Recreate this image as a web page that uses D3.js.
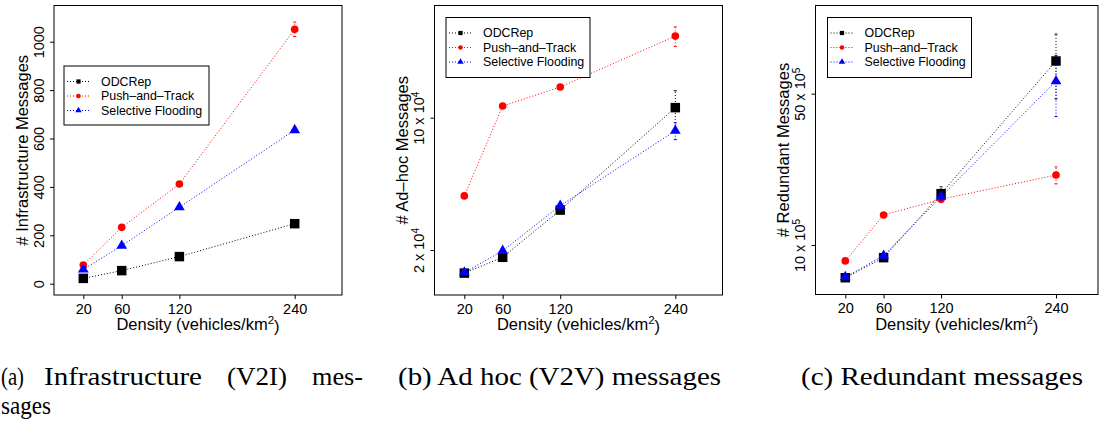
<!DOCTYPE html>
<html>
<head>
<meta charset="utf-8">
<script src="https://cdn.jsdelivr.net/npm/d3@7"></script>
<style>
  html, body { margin: 0; padding: 0; background: #fff; }
  svg { display: block; }
</style>
</head>
<body>
<svg id="chart" width="1099" height="423"></svg>
<script>
// ---------------- DATA ----------------
const densities = [20, 60, 120, 240];
const seriesNames = ["ODCRep", "Push\u2013and\u2013Track", "Selective Flooding"];

// (a) Infrastructure (V2I) messages
const infraODCRep    = [22, 54, 112, 248];
const infraPush      = [77, 233, 412, 1051];
const infraSelective = [59, 157, 316, 635];
const infraErrODCRep    = [2, 3, 5, 8];
const infraErrPush      = [4, 6, 8, 30];
const infraErrSelective = [3, 4, 6, 10];

// (b) Ad hoc (V2V) messages
const adhocODCRep    = [15100, 18300, 32500, 113000];
const adhocPush      = [38600, 115300, 145200, 270000];
const adhocSelective = [15200, 19800, 34300, 85300];
const adhocErrODCRep    = [300, 400, 1000, 25800];
const adhocErrPush      = [800, 2000, 3000, 32000];
const adhocErrSelective = [300, 400, 1000, 8700];

// (c) Redundant messages
const redODCRep    = [706000, 874000, 1726000, 7080000];
const redPush      = [844000, 1376000, 1626000, 2105000];
const redSelective = [711000, 893000, 1672000, 5718000];
const redErrODCRep    = [10000, 20000, 130000, 2350000];
const redErrPush      = [15000, 30000, 40000, 190000];
const redErrSelective = [10000, 20000, 60000, 1800000];

// Tick values / labels
const infraTicks = [0, 200, 400, 600, 800, 1000];
const adhocTicks = [20000, 100000];
const adhocTickLabels = [["2 x 10", "4"], ["10 x 10", "4"]];
const redTicks = [1000000, 5000000];
const redTickLabels = [["10 x 10", "5"], ["50 x 10", "5"]];

const yLabels = ["# Infrastructure Messages", "# Ad\u2013hoc Messages", "# Redundant Messages"];

// ---------------- STYLE / LAYOUT ----------------
const colors = ["#000000", "#ff0000", "#0000ff"];
const shapes = [d3.symbolSquare, d3.symbolCircle, d3.symbolTriangle];
const markerSize = [90, 46, 50];     // area in px^2 for plot markers
const legendMarkerSize = [18, 17, 18];
const sans = "'Liberation Sans', Arial, Helvetica, sans-serif";
const serif = "'Liberation Serif', 'Times New Roman', serif";

const panels = [
  { box: [54, 342, 5.5, 295], x20: 83.3, x240: 294.7, log: false,
    yDom: [0, 1000], yRng: [283.7, 41.7],
    ticks: infraTicks, tickLabels: null,
    series: [infraODCRep, infraPush, infraSelective],
    errs: [infraErrODCRep, infraErrPush, infraErrSelective],
    legend: [64, 66, 145, 59] },
  { box: [434.5, 722.5, 5.5, 295], x20: 464.3, x240: 675.3, log: true,
    yDom: [20000, 100000], yRng: [250, 117.7],
    ticks: adhocTicks, tickLabels: adhocTickLabels,
    series: [adhocODCRep, adhocPush, adhocSelective],
    errs: [adhocErrODCRep, adhocErrPush, adhocErrSelective],
    legend: [446, 17.5, 144, 60] },
  { box: [815.5, 1098, 5.5, 294.5], x20: 845.3, x240: 1056, log: true,
    yDom: [1000000, 5000000], yRng: [245, 93.7],
    ticks: redTicks, tickLabels: redTickLabels,
    series: [redODCRep, redPush, redSelective],
    errs: [redErrODCRep, redErrPush, redErrSelective],
    legend: [827.5, 17.5, 144, 60] }
];

const svg = d3.select("#chart");

panels.forEach((p, pi) => {
  const [bx0, bx1, by0, by1] = p.box;
  const g = svg.append("g");

  const x = d3.scaleLinear().domain([densities[0], densities[3]]).range([p.x20, p.x240]);
  const y = (p.log ? d3.scaleLog() : d3.scaleLinear()).domain(p.yDom).range(p.yRng);

  // plot box
  g.append("rect")
    .attr("x", bx0).attr("y", by0)
    .attr("width", bx1 - bx0).attr("height", by1 - by0)
    .attr("fill", "none").attr("stroke", "#000").attr("stroke-width", 1);

  // X axis
  const xAxis = g.append("g")
    .attr("transform", `translate(0,${by1})`)
    .call(d3.axisBottom(x).tickValues(densities).tickSize(4).tickPadding(4).tickFormat(d3.format("d")));
  xAxis.select(".domain").remove();
  xAxis.selectAll("text").attr("font-family", sans).attr("font-size", 14.5).attr("fill", "#000")
    .attr("dy", 0).attr("y", 18.5);
  xAxis.selectAll("line").attr("stroke", "#000");

  // Y axis
  const yAxis = g.append("g")
    .attr("transform", `translate(${bx0},0)`)
    .call(d3.axisLeft(y).tickValues(p.ticks).tickSize(4).tickFormat(d => d));
  yAxis.select(".domain").remove();
  yAxis.selectAll("line").attr("stroke", "#000");
  yAxis.selectAll("text").each(function(d, i) {
    const t = d3.select(this);
    t.attr("x", 0).attr("y", -10.5).attr("dy", 0)
      .attr("transform", "rotate(-90)")
      .attr("text-anchor", "middle")
      .attr("font-family", sans).attr("font-size", 14.5).attr("fill", "#000");
    if (p.tickLabels) {
      t.text(null);
      t.append("tspan").text(p.tickLabels[i][0]);
      t.append("tspan").attr("dy", "-0.5em").attr("font-size", "70%").text(p.tickLabels[i][1]);
    }
  });

  // axis titles
  const xt = g.append("text")
    .attr("x", (bx0 + bx1) / 2).attr("y", 329.5)
    .attr("text-anchor", "middle")
    .attr("font-family", sans).attr("font-size", 16.5).attr("fill", "#000");
  xt.append("tspan").text("Density (vehicles/km");
  xt.append("tspan").attr("dy", "-0.45em").attr("font-size", "70%").text("2");
  xt.append("tspan").attr("dy", "0.45em").text(")");

  g.append("text")
    .attr("transform", `translate(${bx0 - 26.5},${(by0 + by1) / 2}) rotate(-90)`)
    .attr("text-anchor", "middle")
    .attr("font-family", sans).attr("font-size", 16.5).attr("fill", "#000")
    .text(yLabels[pi]);

  // series
  const line = d3.line().x(d => x(d[0])).y(d => y(d[1]));
  p.series.forEach((vals, si) => {
    const pts = densities.map((d, k) => [d, vals[k]]);
    g.append("path")
      .attr("d", line(pts))
      .attr("fill", "none")
      .attr("stroke", colors[si]).attr("stroke-width", 1)
      .attr("stroke-dasharray", "1,2");
    // error bars
    densities.forEach((d, k) => {
      const lo = y(vals[k] - p.errs[si][k]);
      const hi = y(vals[k] + p.errs[si][k]);
      const cx = x(d);
      const eg = g.append("g").attr("stroke", colors[si]).attr("stroke-width", 1);
      eg.append("line").attr("x1", cx).attr("x2", cx).attr("y1", lo).attr("y2", hi)
        .attr("stroke-dasharray", "1,2");
      eg.append("line").attr("x1", cx - 1.5).attr("x2", cx + 1.5).attr("y1", lo).attr("y2", lo);
      eg.append("line").attr("x1", cx - 1.5).attr("x2", cx + 1.5).attr("y1", hi).attr("y2", hi);
    });
    g.selectAll(null).data(pts).enter().append("path")
      .attr("transform", d => `translate(${x(d[0])},${y(d[1])})`)
      .attr("d", d3.symbol().type(shapes[si]).size(markerSize[si]))
      .attr("fill", colors[si]);
  });

  // legend
  const [lx, ly, lw, lh] = p.legend;
  const lg = g.append("g").attr("transform", `translate(${lx},${ly})`);
  lg.append("rect").attr("width", lw).attr("height", lh)
    .attr("fill", "#fff").attr("stroke", "#000").attr("stroke-width", 1);
  seriesNames.forEach((name, si) => {
    const ry = 15.5 + si * 14.5;
    lg.append("line").attr("x1", 3).attr("x2", 26).attr("y1", ry).attr("y2", ry)
      .attr("stroke", colors[si]).attr("stroke-width", 1).attr("stroke-dasharray", "1,2");
    lg.append("path").attr("transform", `translate(14.5,${ry})`)
      .attr("d", d3.symbol().type(shapes[si]).size(legendMarkerSize[si]))
      .attr("fill", colors[si]);
    lg.append("text").attr("x", 37).attr("y", ry + 4.3)
      .attr("font-family", sans).attr("font-size", 12.4).attr("fill", "#000")
      .text(name);
  });
});

// ---------------- CAPTIONS ----------------
const captionWords = [
  { t: "(a)", x: 1, y: 385, w: 23 },
  { t: "Infrastructure", x: 44, y: 385, w: 158 },
  { t: "(V2I)", x: 227, y: 385, w: 60 },
  { t: "mes-", x: 312, y: 385, w: 51 },
  { t: "sages", x: 1, y: 414, w: 50 },
  { t: "(b) Ad hoc (V2V) messages", x: 398, y: 385, w: 323 },
  { t: "(c) Redundant messages", x: 801, y: 385, w: 282 }
];
svg.append("g").selectAll("text").data(captionWords).enter().append("text")
  .attr("x", d => d.x).attr("y", d => d.y)
  .attr("textLength", d => d.w).attr("lengthAdjust", "spacingAndGlyphs")
  .attr("font-family", serif).attr("font-size", 26).attr("fill", "#000")
  .text(d => d.t);
</script>
</body>
</html>
